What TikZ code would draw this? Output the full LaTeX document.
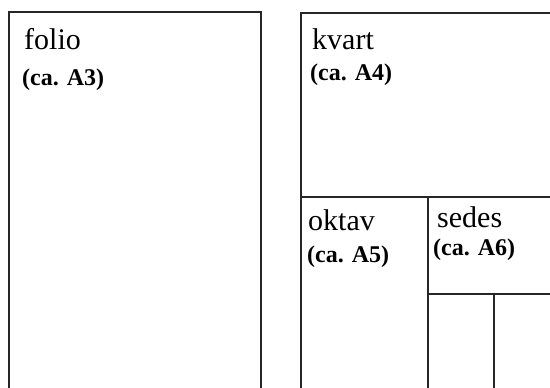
\documentclass[tikz,border=0pt]{standalone}
\usepackage{fontspec}
\setmainfont{Liberation Serif}
\begin{document}
\begin{tikzpicture}[x=1pt,y=-1pt,
  edge/.style={draw=black!85,line width=1.8pt},
  fmt/.style={anchor=base west,inner sep=0pt,font=\fontsize{30}{32}\selectfont},
  sub/.style={anchor=base west,inner sep=0pt,font=\fontsize{24}{26}\selectfont\bfseries}]
\useasboundingbox (0,0) rectangle (550,388);
% folio
\coordinate (fbl) at (9,388);
\coordinate (ftl) at (9,12);
\coordinate (ftr) at (261,12);
\coordinate (fbr) at (261,388);
\draw[edge] (fbl) -- (ftl) -- (ftr) -- (fbr);
% kvart
\coordinate (kbl) at (301,388);
\coordinate (ktl) at (301,13);
\coordinate (ktr) at (550,13);
\draw[edge] (kbl) -- (ktl) -- (ktr);
\coordinate (h1l) at (301,197);
\coordinate (h1r) at (550,197);
\draw[edge] (h1l) -- (h1r);
\coordinate (v1t) at (428,197);
\coordinate (v1b) at (428,388);
\draw[edge] (v1t) -- (v1b);
\coordinate (h2l) at (428,294);
\coordinate (h2r) at (550,294);
\draw[edge] (h2l) -- (h2r);
\coordinate (v2t) at (494,294);
\coordinate (v2b) at (494,388);
\draw[edge] (v2t) -- (v2b);
% labels
\node[fmt] (folio) at (24,49) {folio};
\node[sub] (a3) at (22,85) {(ca. A3)};
\node[fmt] (kvart) at (312,49) {kvart};
\node[sub] (a4) at (310,81) {(ca. A4)};
\node[fmt] (oktav) at (308,230) {oktav};
\node[sub] (a5) at (307,262) {(ca. A5)};
\node[fmt] (sedes) at (437,227) {sedes};
\node[sub] (a6) at (433,255) {(ca. A6)};
\end{tikzpicture}
\end{document}
